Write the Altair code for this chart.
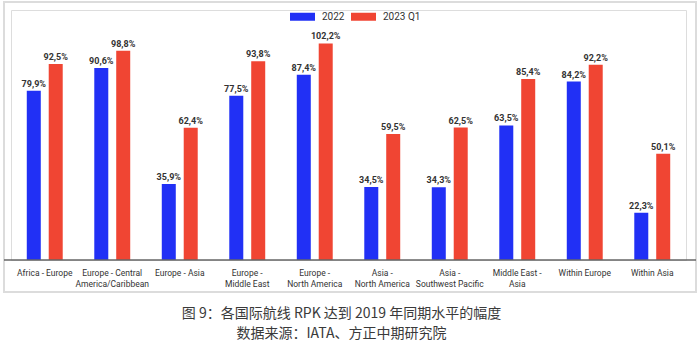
import altair as alt
import pandas as pd

categories = ["Africa - Europe", "Europe - Central|America/Caribbean", "Europe - Asia",
              "Europe -|Middle East", "Europe -|North America", "Asia -|North America",
              "Asia -|Southwest Pacific", "Middle East -|Asia", "Within Europe", "Within Asia"]
series = ["2022", "2023 Q1"]
v2022 = [79.9, 90.6, 35.9, 77.5, 87.4, 34.5, 34.3, 63.5, 84.2, 22.3]
v2023 = [92.5, 98.8, 62.4, 93.8, 102.2, 59.5, 62.5, 85.4, 92.2, 50.1]
caption = ["图 9：各国际航线 RPK 达到 2019 年同期水平的幅度", "数据来源：IATA、方正中期研究院"]

rows = []
for c, a, b in zip(categories, v2022, v2023):
    rows.append({"cat": c, "series": series[0], "value": a})
    rows.append({"cat": c, "series": series[1], "value": b})
df = pd.DataFrame(rows)

W, H = 675, 250

xenc = alt.X("cat:N", sort=categories,
             scale=alt.Scale(paddingInner=0.35, paddingOuter=0.175),
             axis=alt.Axis(title=None, domain=False, ticks=False, labelAngle=0,
                           labelExpr="split(datum.label, '|')", labelPadding=8,
                           labelFontSize=8.5, labelColor="#333333",
                           labelFont="Roboto, sans-serif",
                           labelLineHeight=11))
yenc = alt.Y("value:Q", scale=alt.Scale(domain=[0, 118]), axis=None)
xoff = alt.XOffset("series:N", sort=series, scale=alt.Scale(paddingInner=0))

base = alt.Chart(df).encode(x=xenc, xOffset=xoff)

bars = base.mark_bar(size=14).encode(
    y=yenc,
    color=alt.Color("series:N", sort=series,
                    scale=alt.Scale(domain=series, range=["#2130F5", "#F04533"]),
                    legend=alt.Legend(title=None, orient="none", legendX=279, legendY=-6,
                                      direction="horizontal",
                                      symbolType="M-1,-0.32H1V0.32H-1Z", symbolSize=625,
                                      symbolStrokeWidth=0, labelFontSize=10,
                                      labelColor="#333333", labelFont="Roboto, Arial",
                                      columnPadding=6, labelOffset=7))
)

labels = base.transform_calculate(
    lab="replace(format(datum.value, '.1f'), '.', ',') + '%'"
).mark_text(dy=-7, fontSize=9, fontWeight="bold", color="#333333",
            font="Roboto, sans-serif").encode(
    y=yenc, text="lab:N")

frame = alt.Chart(pd.DataFrame({"a": [0]})).mark_rect(
    fill=None, stroke="#dcdcdc", strokeWidth=2).encode(
    x=alt.value(-7), x2=alt.value(685), y=alt.value(-8), y2=alt.value(282))

baseline = alt.Chart(pd.DataFrame({"a": [0]})).mark_rule(
    color="#666666", strokeWidth=1.5).encode(
    x=alt.value(-7), x2=alt.value(685), y=alt.value(H), y2=alt.value(H))

chart = alt.layer(frame, bars, labels, baseline).properties(
    width=W, height=H,
    autosize=alt.AutoSizeParams(type="none"),
    padding={"left": 11, "top": 10, "right": 14, "bottom": 84},
    title=alt.TitleParams(text=caption, orient="bottom", anchor="middle", offset=14,
                          fontSize=14, fontWeight="normal", color="#3a3a3a",
                          font="Noto Sans CJK SC", lineHeight=20, dx=-7)
).configure_view(stroke=None).configure(background="white")

chart.save("out.html", embed_options={"renderer": "svg", "actions": False})
